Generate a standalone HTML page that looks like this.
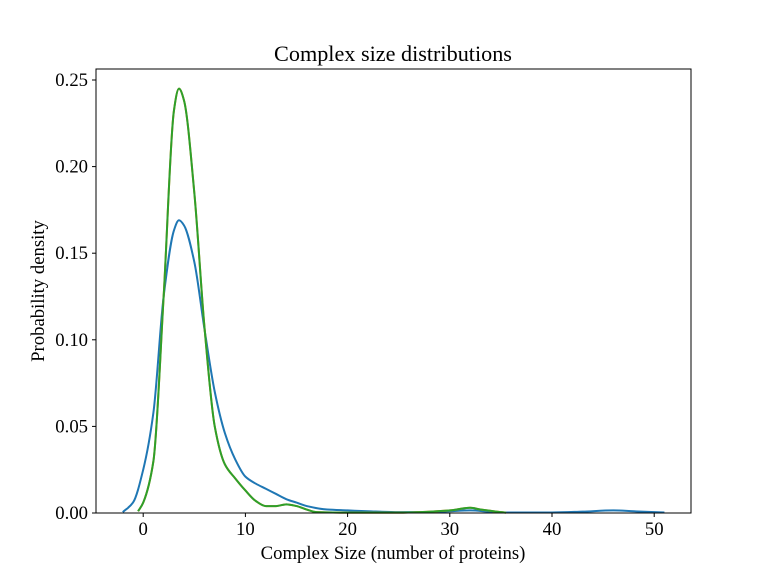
<!DOCTYPE html>
<html><head><meta charset="utf-8"><style>
body{margin:0;background:#fff;}
svg{display:block;font-family:"Liberation Serif",serif;}
</style></head><body>
<svg id="chart" width="768" height="576">
<rect width="768" height="576" fill="#fff"/>
</svg>
<script>
const xTicks=[0,10,20,30,40,50];
const yTicks=[0,0.05,0.10,0.15,0.20,0.25];
const yTickLabels=["0.00","0.05","0.10","0.15","0.20","0.25"];
const blueX=[-2,-1,0,1,2,3,3.5,4,5,6,7,8,9,10,11,12,13,14,15,16,18,20,22,25,28,30,32,34,36,40,43,46,48,51];
const blueY=[0.0005,0.006,0.025,0.058,0.125,0.163,0.169,0.166,0.145,0.106,0.07,0.046,0.031,0.021,0.017,0.014,0.011,0.008,0.006,0.004,0.002,0.0015,0.001,0.0005,0.0005,0.001,0.0015,0.0007,0.0003,0.0003,0.0008,0.0015,0.001,0.0003];
const greenX=[-0.5,0,1,2,3,3.5,4,5,6,7,8,9,10,11,12,13,14,15,16,17,20,25,30,32,33,35,35.5];
const greenY=[0.001,0.006,0.03,0.125,0.232,0.245,0.238,0.185,0.107,0.05,0.028,0.02,0.013,0.007,0.004,0.004,0.005,0.004,0.002,0.0005,0.0002,0.0002,0.0015,0.003,0.002,0.0005,0.0002];
const L=96,R=691,T=69,B=513;
const sx=v=>143.2+v*10.22;
const sy=v=>B-v*1732;
const svg=document.getElementById('chart');
const NS='http://www.w3.org/2000/svg';
function mk(t,a){const e=document.createElementNS(NS,t);for(const k in a)e.setAttribute(k,a[k]);svg.appendChild(e);return e;}
function path(xs,ys){
  const n=xs.length, m=[];
  for(let i=0;i<n;i++){
    if(i===0) m.push((ys[1]-ys[0])/(xs[1]-xs[0]));
    else if(i===n-1) m.push((ys[n-1]-ys[n-2])/(xs[n-1]-xs[n-2]));
    else {
      const a=(ys[i]-ys[i-1])/(xs[i]-xs[i-1]), b=(ys[i+1]-ys[i])/(xs[i+1]-xs[i]);
      m.push(a*b<=0?0:2/(1/a+1/b));
    }
  }
  let d='M'+sx(xs[0])+','+sy(ys[0]);
  for(let i=0;i<n-1;i++){
    const h=xs[i+1]-xs[i];
    d+=` C${sx(xs[i]+h/3)},${sy(ys[i]+m[i]*h/3)} ${sx(xs[i+1]-h/3)},${sy(ys[i+1]-m[i+1]*h/3)} ${sx(xs[i+1])},${sy(ys[i+1])}`;
  }
  return d;
}
let e;
e=mk('path',{d:path(blueX,blueY),fill:'none',stroke:'#1f77b4','stroke-width':2});


e=mk('path',{d:path(greenX,greenY),fill:'none',stroke:'#ff7f0e','stroke-width':2});


e=mk('path',{d:path(greenX,greenY),fill:'none',stroke:'#2ca02c','stroke-width':2});


e=mk('rect',{x:L,y:T,width:R-L,height:B-T,fill:'none',stroke:'#000','stroke-width':1});


xTicks.forEach(v=>{
  mk('line',{x1:sx(v),x2:sx(v),y1:B,y2:B+4,stroke:'#000'});
  const t=mk('text',{x:sx(v),y:B+22,'text-anchor':'middle','font-size':18.7});
  t.textContent=v;
  
  
});
yTicks.forEach((v,i)=>{
  mk('line',{x1:L-4,x2:L,y1:sy(v),y2:sy(v),stroke:'#000'});
  const t=mk('text',{x:L-8,y:sy(v)+6,'text-anchor':'end','font-size':18.7});
  t.textContent=yTickLabels[i];
  
  
});
e=mk('text',{x:393,y:559,'text-anchor':'middle','font-size':18.7});
e.textContent='Complex Size (number of proteins)';


e=mk('text',{x:44,y:291,'text-anchor':'middle','font-size':18.7,transform:'rotate(-90 44 291)'});
e.textContent='Probability density';


e=mk('text',{x:393,y:61,'text-anchor':'middle','font-size':22.2});
e.textContent='Complex size distributions';


</script>
</body></html>
